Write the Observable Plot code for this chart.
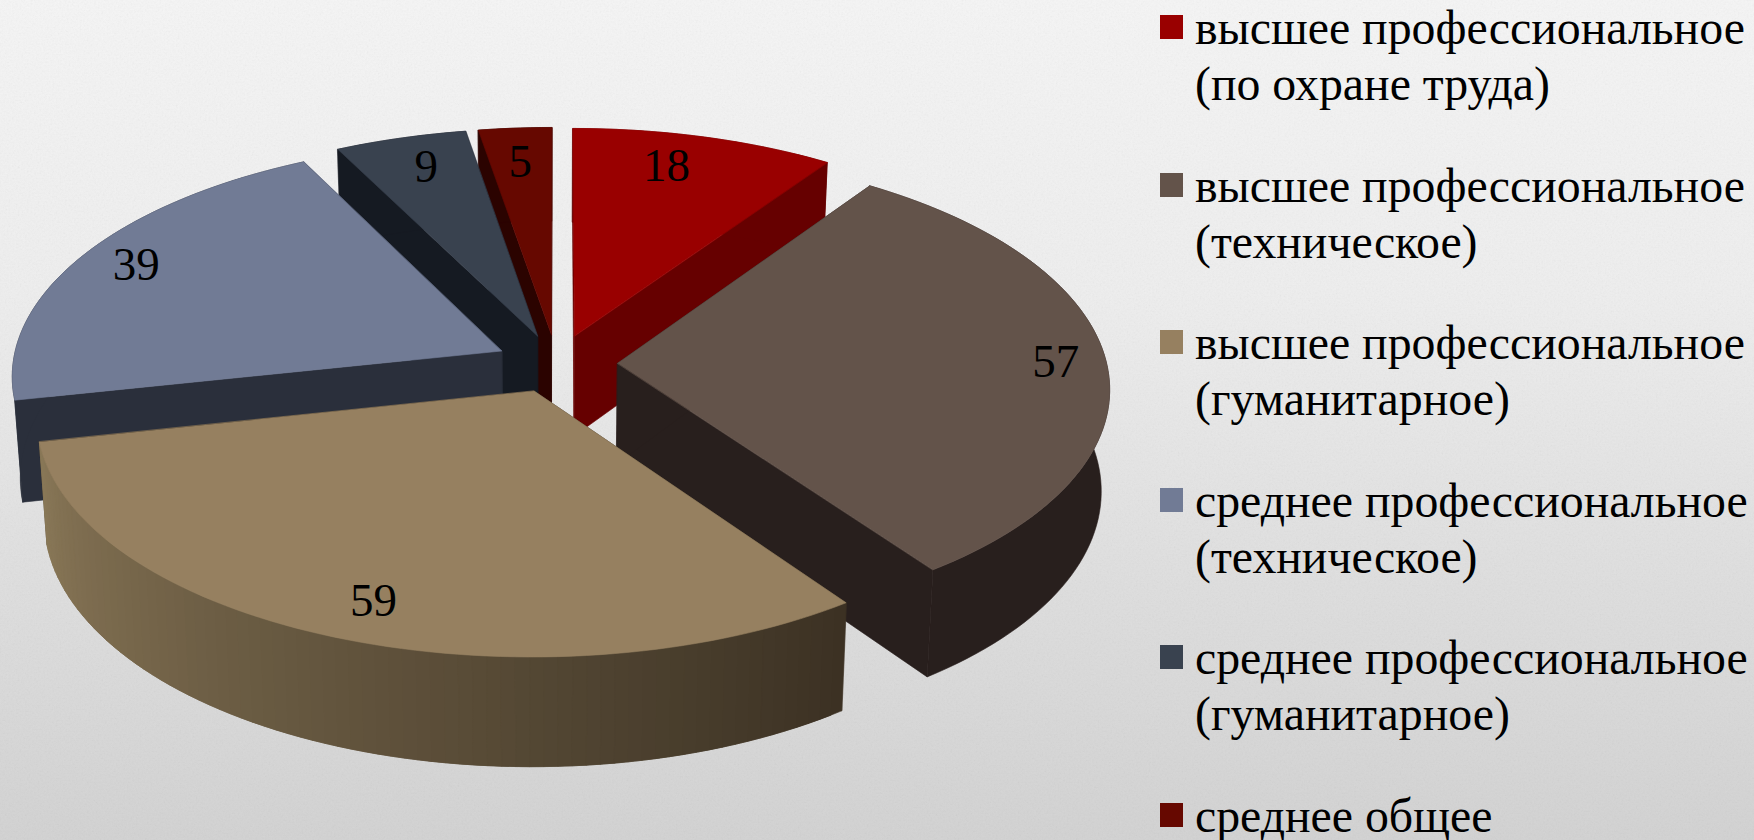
<!DOCTYPE html>
<html lang="ru">
<head>
<meta charset="utf-8">
<script src="https://cdn.jsdelivr.net/npm/d3@7"></script>
<script src="https://cdn.jsdelivr.net/npm/@observablehq/plot@0.6"></script>
<style>
html,body{margin:0;padding:0;width:1754px;height:840px;overflow:hidden}
body{position:relative;background:linear-gradient(180deg,#f5f5f5 0%,#eeeeee 35%,#dedede 70%,#d2d2d2 100%);font-family:"Liberation Serif",serif;color:#000}
#paper{position:absolute;inset:0;opacity:.10;background-image:url("data:image/svg+xml;utf8,<svg xmlns='http://www.w3.org/2000/svg' width='1754' height='840'><filter id='n'><feTurbulence type='fractalNoise' baseFrequency='0.55' numOctaves='3' seed='4'/><feColorMatrix type='saturate' values='0'/></filter><rect width='1754' height='840' filter='url(%23n)'/></svg>")}
#chart{position:absolute;left:0;top:0}
#legend{position:absolute;left:1160px;top:0;width:594px}
.item{display:flex;align-items:flex-start;margin-bottom:45.6px}
.sw{width:23px;height:24px;margin-top:15px;margin-right:12px;flex:none}
.tx{font-size:47.8px;line-height:56px;white-space:pre-line}
</style>
</head>
<body>
<div id="paper"></div>
<div id="chart"></div>
<div id="legend"></div>
<script>
// Data
const categories = [
  "высшее профессиональное\n(по охране труда)",
  "высшее профессиональное\n(техническое)",
  "высшее профессиональное\n(гуманитарное)",
  "среднее профессиональное\n(техническое)",
  "среднее профессиональное\n(гуманитарное)",
  "среднее общее"
];
const values = [18, 57, 59, 39, 9, 5];

// Styles
const topColors  = ["#990000", "#63534a", "#968060", "#717b95", "#39424f", "#660800"];
const wallColors = ["#660000", "#281f1d", "#3b3123", "#2a2f3b", "#151a22", "#2b0300"];
const rimLeftColors = ["#660000", "#281f1d", "#8a7858", "#2a2f3b", "#151a22", "#2b0300"];
const paintOrder = [5, 4, 0, 3, 1, 2];
// where each value label sits: share of the slice's sweep, share of its radius
const labelSweep  = [0.42, 0.5, 0.49, 0.51, 0.55, 0.49];
const labelRadius = [0.83, 0.897, 0.86, 0.875, 0.84, 0.825];

// Perspective view of the tilted, exploded pie
const W = 1140, H = 840;
const view = {cx: 556, cy: 363, A: 489, B: 233.5, k: 0.1, explode: 0.125};
function project(u, v, down) {
  const w = 1 / (1 + view.k * v);
  const X = view.cx + view.A * u * w, Y = view.cy - view.B * v * w;
  if (!down) return [X, Y];
  return [548 + (X - 548) * 0.985, Y + 102 + 0.03 * (Y - 400)];
}
const total = d3.sum(values);
let acc = 0;
const slices = values.map((value, i) => {
  const a0 = acc / total * 2 * Math.PI; acc += value;
  const a1 = acc / total * 2 * Math.PI, mid = (a0 + a1) / 2;
  return {i, value, a0, a1, mid, ex: view.explode * Math.sin(mid), ey: view.explode * Math.cos(mid)};
});
const pt = (s, a, r, down) => project(s.ex + r * Math.sin(a), s.ey + r * Math.cos(a), down);

const rows = [];
let nextId = 0;
function poly(points, color) {
  const id = nextId++;
  for (const [x, y] of points) rows.push({x, y, id, color});
}
for (const i of paintOrder) {
  const s = slices[i];
  const n = Math.max(4, Math.ceil((s.a1 - s.a0) / (Math.PI / 120)));
  const angles = d3.range(n + 1).map(j => s.a0 + (s.a1 - s.a0) * j / n);
  // two radial walls
  for (const a of [s.a1, s.a0])
    poly([pt(s, 0, 0, false), pt(s, a, 1, false), pt(s, a, 1, true), pt(s, 0, 0, true)], wallColors[i]);
  // outer rim: one shape when flat, overlapping bands when it is shaded
  const wall = as => [...as.map(a => pt(s, a, 1, false)), ...as.slice().reverse().map(a => pt(s, a, 1, true))];
  if (wallColors[i] === rimLeftColors[i]) {
    poly(wall(angles), wallColors[i]);
  } else {
    const shade = d3.interpolateRgb(wallColors[i], rimLeftColors[i]);
    for (let j = 0; j < n; j++) {
      const t = (j + 0.5) / n;
      poly(wall(angles.slice(j, Math.min(n, j + 2) + 1)), shade(t));
    }
  }
  // top face
  poly([pt(s, 0, 0, false), ...angles.map(a => pt(s, a, 1, false))], topColors[i]);
}
const labels = slices.map(s => {
  const a = s.a0 + (s.a1 - s.a0) * labelSweep[s.i];
  const [x, y] = pt(s, a, labelRadius[s.i], false);
  return {x, y, text: String(s.value)};
});

const chart = Plot.plot({
  width: W, height: H,
  margin: 0,
  x: {domain: [0, W], axis: null},
  y: {domain: [H, 0], axis: null},
  color: {type: "identity"},
  style: {background: "transparent"},
  marks: [
    Plot.line(rows, {x: "x", y: "y", z: "id", fill: "color", stroke: "color", strokeWidth: 0.6, curve: "linear-closed"}),
    Plot.text(labels, {x: "x", y: "y", text: "text", fontSize: 47, fontFamily: "Liberation Serif", fill: "#000", stroke: "none"})
  ]
});
document.getElementById("chart").append(chart);

const legend = d3.select("#legend");
categories.forEach((c, i) => {
  const item = legend.append("div").attr("class", "item");
  item.append("div").attr("class", "sw").style("background", topColors[i]);
  item.append("div").attr("class", "tx").text(c);
});
</script>
</body>
</html>
